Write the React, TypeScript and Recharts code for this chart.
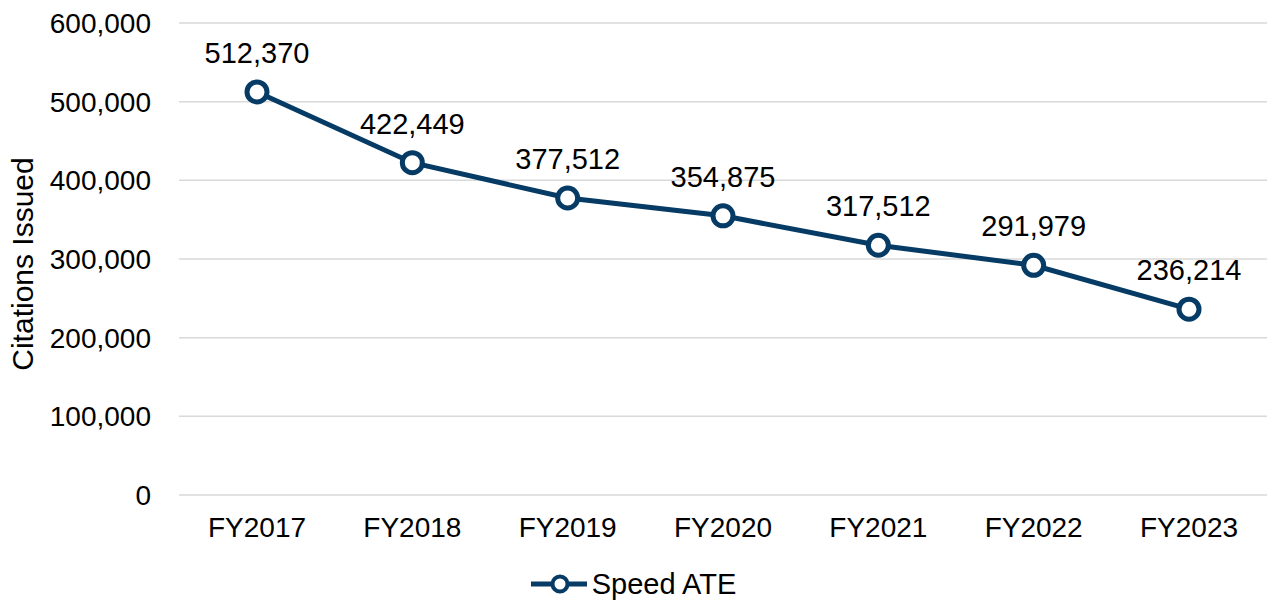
import { LineChart, Line, XAxis, YAxis, CartesianGrid, Legend, LabelList } from "recharts";

const YEARS = ["FY2017", "FY2018", "FY2019", "FY2020", "FY2021", "FY2022", "FY2023"];
const CITATIONS = [512370, 422449, 377512, 354875, 317512, 291979, 236214];
const Y_TICKS = [0, 100000, 200000, 300000, 400000, 500000, 600000];

const NAVY = "#053b64";
const FONT = "'Liberation Sans', Arial, sans-serif";

const data = YEARS.map((year, i) => ({ year, value: CITATIONS[i] }));

const fmt = (v: number) => v.toLocaleString("en-US");

const AxisTitle = ({ viewBox }: { viewBox?: { x: number; y: number; width: number; height: number } }) => {
  if (!viewBox) return null;
  const cx = viewBox.x + 33;
  const cy = viewBox.y + viewBox.height / 2 + 5;
  return (
    <text x={cx} y={cy} transform={`rotate(-90 ${cx} ${cy})`} textAnchor="middle" fontSize={30} fontFamily={FONT} fill="#000">
      Citations Issued
    </text>
  );
};

const LegendContent = () => (
  <div style={{ display: "flex", justifyContent: "center", alignItems: "center", height: 40, fontFamily: FONT, fontSize: 29, color: "#000" }}>
    <svg width={58} height={24} style={{ marginRight: 3 }}>
      <line x1={0} y1={12} x2={56} y2={12} stroke={NAVY} strokeWidth={5} />
      <circle cx={29} cy={12} r={7.5} fill="#fff" stroke={NAVY} strokeWidth={4} />
    </svg>
    <span>Speed ATE</span>
  </div>
);

export default function App() {
  return (
    <div style={{ position: "absolute", left: 0, top: 0, width: 1270, height: 604, background: "#fff" }}>
      <LineChart width={1270} height={604} data={data} margin={{ top: 23, right: 3, left: 0, bottom: 0 }}>
        <CartesianGrid vertical={false} stroke="#d9d9d9" strokeWidth={1.5} />
        <XAxis
          dataKey="year"
          padding={{ left: 78, right: 78 }}
          axisLine={false}
          tickLine={false}
          tickSize={0}
          tickMargin={22}
          height={69}
          interval={0}
          tick={{ fill: "#000", fontSize: 28, fontFamily: FONT }}
        />
        <YAxis
          width={179}
          domain={[0, 600000]}
          ticks={Y_TICKS}
          tickFormatter={fmt}
          axisLine={false}
          tickLine={false}
          tickSize={0}
          tickMargin={28}
          tick={{ fill: "#000", fontSize: 28, fontFamily: FONT }}
          label={{ content: AxisTitle }}
        />
        <Legend verticalAlign="bottom" content={LegendContent} />
        <Line
          type="linear"
          dataKey="value"
          name="Speed ATE"
          stroke={NAVY}
          strokeWidth={5}
          dot={{ r: 10, fill: "#fff", stroke: NAVY, strokeWidth: 5 }}
          activeDot={false}
          isAnimationActive={false}
        >
          <LabelList dataKey="value" position="top" offset={29} formatter={(v: any) => fmt(Number(v))} fill="#000" fontSize={29} fontFamily={FONT} />
        </Line>
      </LineChart>
    </div>
  );
}
